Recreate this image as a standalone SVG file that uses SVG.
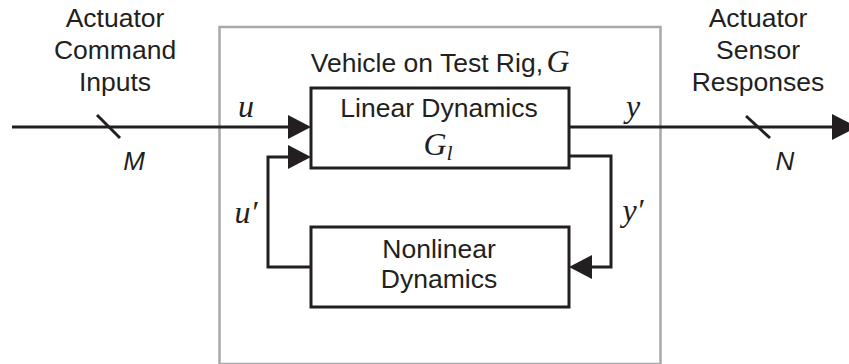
<svg xmlns="http://www.w3.org/2000/svg" width="849" height="364" viewBox="0 0 849 364">
  <style>
    .wire { fill: none; stroke: #231f20; stroke-width: 3; }
    .box { fill: #ffffff; stroke: #231f20; stroke-width: 3; }
    .frame { fill: none; stroke: #a7a9ac; stroke-width: 2.5; }
    .lbl { font-family: "Liberation Sans", Arial, sans-serif; font-size: 26.5px; fill: #231f20; text-anchor: middle; }
    .dim { font-family: "Liberation Sans", Arial, sans-serif; font-size: 26px; font-style: italic; fill: #231f20; text-anchor: middle; }
    .math { font-family: "Liberation Serif", "Times New Roman", serif; font-style: italic; font-size: 32px; fill: #231f20; text-anchor: middle; }
    .end { text-anchor: end; }
    .head { fill: #231f20; }
  </style>

  <!-- outer plant boundary -->
  <g id="plant">
    <rect class="frame" x="219.5" y="27" width="441" height="337"/>
    <text class="lbl end" x="543" y="72">Vehicle on Test Rig,</text>
    <text class="math" x="558" y="72">G</text>
  </g>

  <!-- signal wiring -->
  <g id="connectors">
    <!-- input u -->
    <line class="wire" x1="12" y1="127" x2="290" y2="127"/>
    <polygon class="head" points="288,115 311,127 288,139"/>
    <line class="wire" x1="97" y1="115" x2="120" y2="138"/>
    <!-- output y -->
    <line class="wire" x1="569" y1="127" x2="834" y2="127"/>
    <polygon class="head" points="832,114 857,127 832,140"/>
    <line class="wire" x1="746" y1="116" x2="770" y2="138"/>
    <!-- feedback y' into nonlinear block -->
    <polyline class="wire" points="569,156 611,156 611,267 590,267"/>
    <polygon class="head" points="592,255 569,267 592,279"/>
    <!-- feedback u' into linear block -->
    <polyline class="wire" points="311,267 268,267 268,157 290,157"/>
    <polygon class="head" points="288,145 311,157 288,169"/>
  </g>

  <g id="linear">
    <rect class="box" x="311" y="88" width="258" height="80"/>
    <text class="lbl" x="439" y="117">Linear Dynamics</text>
    <text class="math" x="438" y="155">G<tspan font-size="22" dy="5">l</tspan></text>
  </g>

  <g id="nonlinear">
    <rect class="box" x="311" y="227" width="258" height="80"/>
    <text class="lbl" x="439" y="258">Nonlinear</text>
    <text class="lbl" x="439" y="288">Dynamics</text>
  </g>

  <g id="inputs">
    <text class="lbl" x="115" y="27">Actuator</text>
    <text class="lbl" x="115" y="59">Command</text>
    <text class="lbl" x="115" y="91">Inputs</text>
    <text class="dim" x="134" y="170">M</text>
  </g>

  <g id="outputs">
    <text class="lbl" x="758" y="27">Actuator</text>
    <text class="lbl" x="758" y="59">Sensor</text>
    <text class="lbl" x="758" y="91">Responses</text>
    <text class="dim" x="785" y="170">N</text>
  </g>

  <g id="signal-labels">
    <text class="math" x="246" y="117">u</text>
    <text class="math" x="633" y="117">y</text>
    <text class="math" x="246" y="223">u′</text>
    <text class="math" x="633" y="221">y′</text>
  </g>
</svg>
